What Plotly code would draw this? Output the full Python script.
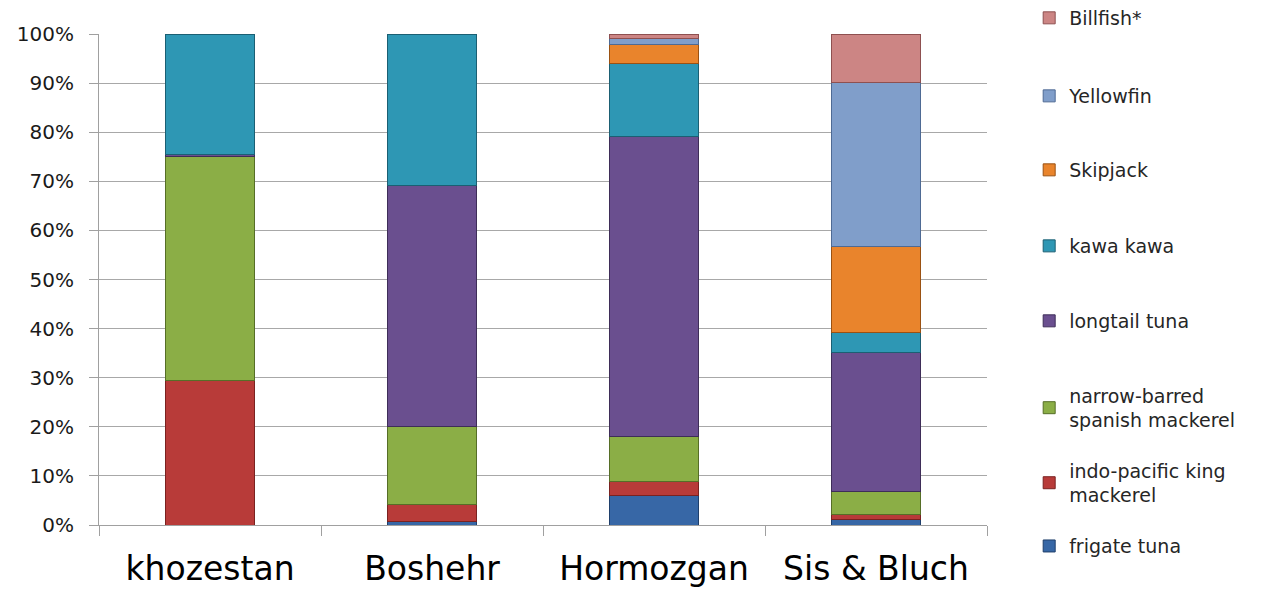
import plotly.graph_objects as go

regions = ["khozestan", "Boshehr", "Hormozgan", "Sis & Bluch"]

species = ["frigate tuna", "indo-pacific king<br>mackerel", "narrow-barred<br>spanish mackerel",
           "longtail tuna", "kawa kawa", "Skipjack", "Yellowfin", "Billfish*"]

frigate_tuna = [0.0, 0.8, 6.0, 1.2]
indo_pacific_king_mackerel = [29.5, 3.3, 2.8, 1.0]
narrow_barred_spanish_mackerel = [45.5, 15.9, 9.2, 4.6]
longtail_tuna = [0.5, 49.1, 61.1, 28.4]
kawa_kawa = [24.5, 30.9, 14.9, 4.0]
skipjack = [0.0, 0.0, 3.8, 17.6]
yellowfin = [0.0, 0.0, 1.2, 33.4]
billfish = [0.0, 0.0, 1.0, 9.8]

series = [frigate_tuna, indo_pacific_king_mackerel, narrow_barred_spanish_mackerel,
          longtail_tuna, kawa_kawa, skipjack, yellowfin, billfish]

colors = ["#3767A6", "#B83B39", "#8BAE46", "#6A4F8F", "#2E97B4", "#E9842C", "#809ECA", "#CC8584"]
edges = ["#1F3F6B", "#7A2220", "#566E27", "#3E2D58", "#1B5F73", "#9A5112", "#4E6A94", "#8E5050"]

# legend item centre positions (paper y)
legend_y = [-0.043, 0.0855, 0.2383, 0.4155, 0.5682, 0.7230, 0.8737, 1.0326]

fig = go.Figure()
for i, (name, vals) in enumerate(zip(species, series)):
    lg = "legend" if i == 0 else f"legend{i+1}"
    fig.add_trace(go.Bar(
        x=regions, y=[v if v > 0 else None for v in vals], name=name,
        marker=dict(color=colors[i], line=dict(color=edges[i], width=1)),
        width=0.405, legend=lg,
    ))

layout_legends = {}
for i in range(len(species)):
    key = "legend" if i == 0 else f"legend{i+1}"
    layout_legends[key] = dict(
        x=1.0475, y=legend_y[i], xanchor="left", yanchor="middle",
        font=dict(family="DejaVu Sans", size=19, color="#262626"),
        bgcolor="rgba(0,0,0,0)", itemclick=False, itemdoubleclick=False,
    )

fig.update_layout(
    barmode="stack",
    width=1277, height=592,
    margin=dict(l=99, r=290, t=34, b=67, autoexpand=False),
    paper_bgcolor="white", plot_bgcolor="white",
    font=dict(family="DejaVu Sans", color="#1a1a1a"),
    showlegend=True,
    **layout_legends,
)

fig.update_yaxes(
    range=[0, 100], dtick=10, ticksuffix="%",
    showgrid=True, gridcolor="#A8A8A8", gridwidth=1,
    showline=True, linecolor="#A0A0A0", linewidth=1,
    ticks="outside", ticklen=9, tickcolor="#A0A0A0",
    tickfont=dict(family="DejaVu Sans", size=20, color="#1a1a1a"),
    ticklabelstandoff=11,
    zeroline=False,
)
fig.update_xaxes(
    type="category", tickson="boundaries",
    showgrid=False, showline=True, linecolor="#A0A0A0", linewidth=1,
    ticks="outside", ticklen=10, tickcolor="#A0A0A0",
    tickfont=dict(family="DejaVu Sans", size=33, color="#000000"),
    ticklabelstandoff=14,
)

fig.write_html("out.html")
